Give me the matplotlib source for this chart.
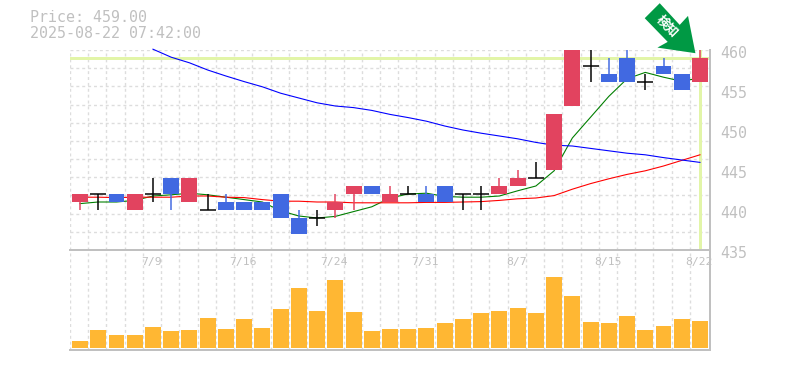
import matplotlib
matplotlib.use('Agg')
import matplotlib.pyplot as plt
import numpy as np
from matplotlib.patches import Polygon
from matplotlib.transforms import IdentityTransform

opens = [441, 442, 442, 440, 442, 444, 441, 440, 441, 441, 441, 442, 439, 439, 440, 442, 443, 441,
         442, 442, 443, 442, 442, 442, 443, 444, 445, 453, 458, 457, 459, 456, 458, 457, 456]
highs = [442, 442, 442, 442, 444, 444, 444, 442, 442, 441, 441, 442, 440, 440, 442, 443, 443, 443,
         443, 443, 443, 442, 443, 444, 445, 446, 452, 460, 460, 459, 460, 457, 459, 457, 460]
lows = [440, 440, 441, 440, 441, 440, 441, 440, 440, 440, 440, 439, 437, 438, 439, 440, 442, 441,
        442, 441, 441, 440, 440, 442, 443, 444, 445, 453, 456, 456, 456, 455, 457, 455, 456]
closes = [442, 442, 441, 442, 442, 442, 444, 440, 440, 440, 440, 439, 437, 439, 441, 443, 442, 442,
          442, 441, 441, 442, 442, 443, 444, 444, 452, 460, 458, 456, 456, 456, 457, 455, 459]
volumes = [6.7, 17.7, 12.7, 12.7, 20.7, 16.7, 17.7, 29.7, 18.7, 28.7, 19.7, 38.7, 59.7, 36.7, 67.7,
           35.7, 16.7, 18.7, 18.7, 19.7, 24.7, 28.7, 34.7, 36.7, 39.7, 34.7, 70.7, 51.7, 25.7, 24.7,
           31.7, 17.7, 21.7, 28.7, 26.7]

ma_short = [440.8, 441.0, 441.0, 441.2, 441.75, 441.9, 442.1, 441.9, 441.6, 441.3, 441.0, 439.9, 439.25,
            439.0, 439.2, 439.8, 440.4, 441.5, 442.0, 442.1, 441.7, 441.6, 441.6, 441.75, 442.4, 443.0,
            444.9, 449.0, 451.6, 454.2, 456.4, 457.2, 456.6, 456.1, 456.5]
ma_mid = [441.6, 441.6, 441.55, 441.6, 441.6, 441.6, 441.75, 441.75, 441.6, 441.55, 441.3, 441.1, 441.1,
          441.0, 441.0, 440.9, 440.9, 440.9, 440.9, 440.95, 440.95, 441.0, 441.05, 441.2, 441.4, 441.5,
          441.8, 442.6, 443.3, 443.9, 444.45, 444.9, 445.5, 446.2, 446.9]
ma_long = [460.1, 459.1, 458.4, 457.5, 456.75, 456.05, 455.4, 454.6, 454.0, 453.4, 453.0, 452.8, 452.45,
           451.95, 451.55, 451.1, 450.5, 450.0, 449.6, 449.25, 448.9, 448.45, 448.1, 448.0, 447.7, 447.4,
           447.1, 446.9, 446.55, 446.25, 445.95]
ma_long_start = 4

date_idx = [4, 9, 14, 19, 24, 29, 34]
date_labels = ['7/9', '7/16', '7/24', '7/31', '8/7', '8/15', '8/22']
price_ticks = [460, 455, 450, 445, 440, 435]
last_price = 459

UP = '#E2435F'
DOWN = '#4169E1'
GRID = '#DDDDDD'
AXIS = '#C0C0C0'
MARK = '#E2F5A8'
PX = 72 / 100
DASH = (0, (2.1, 2.1))

fig = plt.figure(figsize=(7.85, 3.7), dpi=100)
ax = fig.add_axes([70 / 785, 120 / 370, 640 / 785, 200 / 370])
vax = fig.add_axes([70 / 785, 20 / 370, 640 / 785, 100 / 370])
vax.patch.set_visible(False)

x = np.arange(len(closes))
for a in (ax, vax):
    a.set_xlim(-0.55, 34.55)
    a.set_xticks(x - 0.55)
    a.tick_params(length=0, labelbottom=False, labelleft=False)
    a.grid(axis='x', color=GRID, linestyle=DASH, linewidth=1.4 * PX)
    a.set_axisbelow(True)
    for s in ('top', 'left'):
        a.spines[s].set_visible(False)
    for s in ('bottom', 'right'):
        a.spines[s].set_color(AXIS)
        a.spines[s].set_linewidth(2 * PX)

ax.set_ylim(435, 460)
ax.set_yticks(np.linspace(435, 460, 12))
ax.grid(axis='y', color=GRID, linestyle=DASH, linewidth=1.4 * PX)
vax.set_ylim(-2.3, 97.7)
vax.set_yticks([])

ax.axhline(last_price, color=MARK, linewidth=3 * PX, zorder=1)
ax.axvline(x[-1], ymax=0.995, color=MARK, linewidth=3 * PX, zorder=1)

ax.plot(x, ma_short, color='#007F00', linewidth=1.1 * PX, zorder=2)
ax.plot(x, ma_mid, color='#FF0000', linewidth=1.1 * PX, zorder=2)
ax.plot(x[ma_long_start:], ma_long, color='#0000FF', linewidth=1.1 * PX, zorder=2, clip_on=False)

for i in x:
    o, h, l, c = opens[i], highs[i], lows[i], closes[i]
    if c == o:
        ax.vlines(i, l, h, color='black', linewidth=1.5 * PX, zorder=3)
        ax.hlines(c, i - 0.44, i + 0.44, color='black', linewidth=1.5 * PX, zorder=3)
    else:
        col = UP if c > o else DOWN
        ax.vlines(i, l, h, color=col, linewidth=1.5 * PX, zorder=3)
        ax.bar(i, abs(c - o), bottom=min(o, c), width=0.877, color=col, zorder=4)

vax.bar(x, volumes, width=0.877, color='#FFB733', zorder=3)

for p in price_ticks:
    ax.annotate(str(p), xy=(1, p), xycoords=ax.get_yaxis_transform(), xytext=(10 * PX, -3 * PX),
                textcoords='offset points', ha='left', va='center', color=AXIS,
                family='DejaVu Sans Mono', fontsize=10.8, annotation_clip=False)
for i, label in zip(date_idx, date_labels):
    vax.annotate(label, xy=(i, 1), xycoords=vax.get_xaxis_transform(), xytext=(-1 * PX, -12 * PX),
                 textcoords='offset points', ha='center', va='center', color=AXIS,
                 family='DejaVu Sans Mono', fontsize=8.2, annotation_clip=False)

fig.text(30 / 785, 1 - 18 / 370, 'Price: %.2f' % last_price, color=AXIS, family='DejaVu Sans Mono',
         fontsize=10.8, va='center')
fig.text(30 / 785, 1 - 33 / 370, '2025-08-22 07:42:00', color=AXIS, family='DejaVu Sans Mono',
         fontsize=10.8, va='center')

# arrow pointing at the last candle, shape in pixels from its tip
tip = ax.transData.transform((x[-1] - 0.25, 459.6))
shape = np.array([[-35.7, 50], [-50.7, 35], [-27.7, 11.3], [-38, 5.6], [0, 0], [-7.4, 37.3], [-15.7, 28.3]])
ax.add_patch(Polygon(tip + shape, closed=True, transform=IdentityTransform(), facecolor='#009944',
                     edgecolor='none', clip_on=False, zorder=6))
fig.text(667 / 785, 1 - 26 / 370, '検知', color='white', family=['Noto Sans CJK JP', 'DejaVu Sans'],
         fontweight='bold', fontsize=9, rotation=-45, ha='center', va='center', zorder=7)

fig.savefig('out.png', dpi=100)
